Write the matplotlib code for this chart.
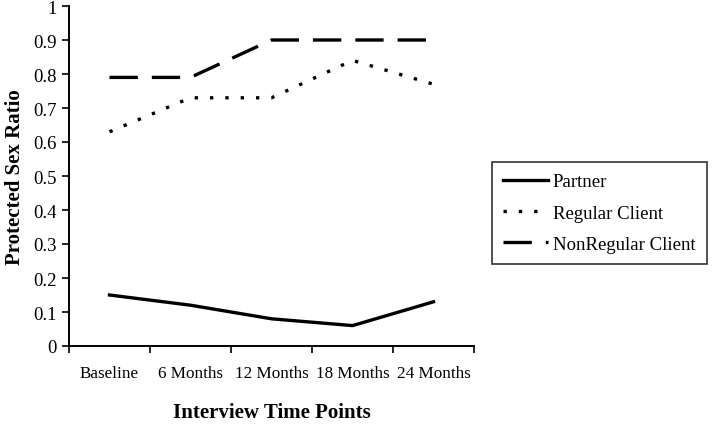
import numpy as np
import matplotlib.pyplot as plt

time_points = ['Baseline', '6 Months', '12 Months', '18 Months', '24 Months']
partner = [0.15, 0.12, 0.08, 0.06, 0.13]
regular_client = [0.63, 0.73, 0.73, 0.84, 0.77]
nonregular_client = [0.79, 0.79, 0.90, 0.90, 0.90]

plt.rcParams['font.family'] = ['Liberation Serif', 'DejaVu Serif']

fig = plt.figure(figsize=(7.2, 4.27), dpi=100)
ax = fig.add_axes([69 / 720, 1 - 347 / 427, (474 - 69) / 720, (347 - 7) / 427])

x = np.arange(len(time_points))
ax.plot(x, partner, '-', color='black', lw=2.4, label='Partner')
ax.plot(x, regular_client, color='black', lw=2.4, linestyle=(0, (1, 3.6)),
        dash_capstyle='butt', label='Regular Client')
ax.plot(x, nonregular_client, color='black', lw=2.4, linestyle=(0, (8.5, 4.2)),
        dash_capstyle='butt', label='NonRegular Client')

ax.set_xlim(-0.5, len(time_points) - 0.5)
ax.set_ylim(0, 1)
ax.set_yticks(np.arange(0, 1.01, 0.1))
ax.set_yticklabels(['0', '0.1', '0.2', '0.3', '0.4', '0.5', '0.6', '0.7', '0.8', '0.9', '1'])
ax.set_xticks(np.arange(-0.5, len(time_points), 1))
ax.set_xticklabels([])
ax.set_xticks(x, minor=True)
ax.set_xticklabels(time_points, minor=True)
ax.tick_params(axis='x', which='minor', length=0, pad=14, labelsize=12.3)
ax.tick_params(axis='x', which='major', length=5, width=1.2, direction='out')
ax.tick_params(axis='y', length=5, width=1.2, direction='out', labelsize=13.5, pad=4)

for s in ['top', 'right']:
    ax.spines[s].set_visible(False)
for s in ['left', 'bottom']:
    ax.spines[s].set_linewidth(1.4)

ax.set_xlabel('Interview Time Points', fontsize=15, fontweight='bold', labelpad=15)
ax.set_ylabel('Protected Sex Ratio', fontsize=15, fontweight='bold', labelpad=6)

leg = fig.legend(loc='upper left', bbox_to_anchor=(492 / 720, 1 - 163 / 427),
                 frameon=True, fancybox=False, edgecolor='black', fontsize=13.5,
                 handlelength=2.4, handletextpad=0.25, labelspacing=0.75,
                 borderpad=0.6, borderaxespad=0)
leg.get_frame().set_linewidth(1.2)

fig.savefig('out.png', dpi=100)
